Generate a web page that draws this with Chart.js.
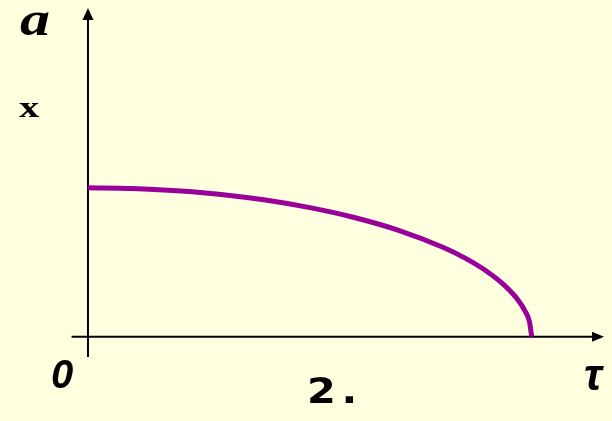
<!DOCTYPE html>
<html>
<head>
<meta charset="utf-8">
<script src="https://cdn.jsdelivr.net/npm/chart.js@4/dist/chart.umd.min.js"></script>
<style>
  html, body { margin: 0; padding: 0; background: #ffffe0; }
  #wrap { position: relative; width: 612px; height: 421px; overflow: hidden; }
  #plot { position: absolute; left: 0; top: 0; }
  .lbl { position: absolute; color: #000; line-height: 1; white-space: nowrap; font-weight: bold; transform-origin: left top; }
  .serif { font-family: "Liberation Serif", "Times New Roman", serif; }
  .sans { font-family: "Liberation Sans", Arial, sans-serif; }
  .wide { font-family: "DejaVu Sans", Verdana, sans-serif; }
</style>
</head>
<body>
<div id="wrap">
  <canvas id="plot" width="612" height="421"></canvas>
  <div class="lbl serif" style="left:20px;top:-5px;font-size:48px;font-style:italic;transform:scaleX(1.25);">a</div>
  <div class="lbl serif" style="left:19px;top:92px;font-size:30px;transform:scaleX(1.35);">x</div>
  <div class="lbl sans" style="left:51px;top:354px;font-size:40px;font-style:italic;">0</div>
  <div class="lbl sans" style="left:584px;top:353px;font-size:44px;font-style:italic;">τ</div>
  <div class="lbl wide" style="left:307px;top:373px;font-size:36px;letter-spacing:5px;transform:scaleX(1.15);">2.</div>
</div>
<script>
// curve: tau (0..1) and a (0..1)
const tau_list = [0, 0.1, 0.2, 0.3, 0.4, 0.5, 0.6, 0.7, 0.8, 0.85, 0.9, 0.94, 0.97, 0.985, 0.995, 1.0];
const a_list = [1.0, 0.995, 0.98, 0.955, 0.917, 0.866, 0.80, 0.714, 0.60, 0.527, 0.436, 0.341, 0.243, 0.172, 0.10, 0];

const ctx = document.getElementById("plot").getContext("2d");

// axes with arrows, drawn through the scales
const axesPlugin = {
    id: 'axesArrows',
    beforeDatasetsDraw(chart) {
        const xs = chart.scales.x, ys = chart.scales.y;
        const c = chart.ctx;
        const x0 = xs.getPixelForValue(0), y0 = ys.getPixelForValue(0);
        const xStart = xs.getPixelForValue(-0.037), xEnd = xs.getPixelForValue(1.163);
        const yStart = ys.getPixelForValue(-0.136), yEnd = ys.getPixelForValue(2.206);
        c.save();
        c.strokeStyle = '#000';
        c.fillStyle = '#000';
        c.lineWidth = 2;
        c.beginPath();
        c.moveTo(xStart, y0); c.lineTo(xEnd - 8, y0);
        c.moveTo(x0, yStart); c.lineTo(x0, yEnd + 8);
        c.stroke();
        // arrow heads
        c.beginPath();
        c.moveTo(xEnd, y0); c.lineTo(xEnd - 12, y0 - 5); c.lineTo(xEnd - 12, y0 + 5); c.closePath();
        c.fill();
        c.beginPath();
        c.moveTo(x0, yEnd); c.lineTo(x0 - 5.5, yEnd + 12); c.lineTo(x0 + 5.5, yEnd + 12); c.closePath();
        c.fill();
        c.restore();
    }
};

const chart = new Chart(ctx, {
    type: 'scatter',
    data: {
        datasets: [{
            label: 'a(tau)',
            data: tau_list.map((t, i) => ({ x: t, y: a_list[i] })),
            showLine: true,
            borderColor: '#990099',
            borderWidth: 5,
            pointRadius: 0,
            cubicInterpolationMode: 'monotone',
            fill: false
        }]
    },
    options: {
        responsive: false,
        animation: false,
        layout: { padding: 0 },
        plugins: { legend: { display: false }, tooltip: { enabled: false } },
        scales: {
            x: { type: 'linear', display: false, min: -0.1983, max: 1.181 },
            y: { type: 'linear', display: false, min: -0.5658, max: 2.2597 }
        }
    },
    plugins: [axesPlugin]
});
</script>
</body>
</html>
